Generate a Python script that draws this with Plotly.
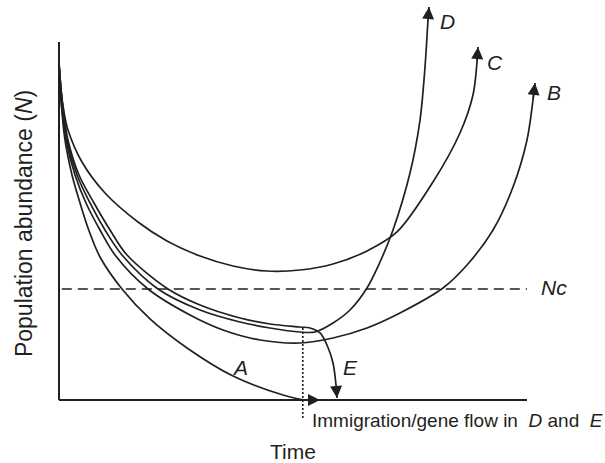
import plotly.graph_objects as go

# ---- data (time t, population abundance N) ----
A_t = [0, 0.043, 0.128, 0.278, 0.449, 0.620, 0.876, 1.346, 1.944, 2.735, 3.718, 4.786, 5.256, 5.577]
A_N = [9.330, 8.380, 7.263, 6.285, 5.503, 4.804, 3.994, 3.101, 2.263, 1.453, 0.670, 0.140, 0.0, 0.0]

B_t = [0, 0.043, 0.150, 0.342, 0.577, 0.876, 1.197, 1.902, 2.799, 3.504, 4.295, 5.150, 5.855, 6.581,
       7.286, 8.205, 8.718, 9.274, 9.701, 10.0, 10.128, 10.171]
B_N = [9.358, 8.380, 7.263, 6.285, 5.503, 4.749, 4.050, 3.101, 2.374, 1.955, 1.676, 1.592, 1.732, 2.011,
       2.430, 3.128, 3.771, 4.749, 5.950, 7.263, 8.380, 8.855]

C_t = [0, 0.043, 0.107, 0.192, 0.491, 0.983, 1.688, 2.308, 3.013, 3.718, 4.444, 5.150, 5.855, 6.581,
       7.222, 7.991, 8.568, 8.846, 8.932, 8.953]
C_N = [9.441, 8.659, 8.045, 7.542, 6.648, 5.782, 4.972, 4.441, 4.022, 3.743, 3.603, 3.631, 3.799, 4.162,
       4.693, 6.089, 7.458, 8.520, 9.441, 9.860]

D_t = [0, 0.064, 0.171, 0.385, 0.662, 0.983, 1.346, 2.115, 3.013, 3.868, 4.509, 5.150, 5.470, 5.855,
       6.218, 6.581, 6.859, 7.137, 7.500, 7.714, 7.821, 7.885, 7.906]
D_N = [9.385, 8.380, 7.263, 6.285, 5.503, 4.749, 4.050, 3.101, 2.514, 2.179, 2.011, 1.899, 1.899, 2.151,
       2.514, 3.128, 3.855, 4.749, 6.341, 7.821, 9.302, 10.615, 10.978]

E_t = [0, 0.064, 0.192, 0.427, 0.748, 1.090, 1.453, 2.329, 3.013, 3.868, 4.509, 5.150, 5.363, 5.577,
       5.726, 5.855, 5.919, 5.940]
E_N = [9.413, 8.380, 7.263, 6.285, 5.503, 4.749, 4.050, 3.101, 2.654, 2.291, 2.123, 2.039, 2.011, 1.872,
       1.536, 1.034, 0.419, 0.056]

NC_LEVEL = 3.10          # critical population size Nc
T_IMMIGRATION = 5.21     # time of immigration / gene flow
T_MAX = 10.0
N_MAX = 10.0
DOT_TOP = 2.01
DOT_BOTTOM = -0.56

INK = "#231f20"
FONT = "Liberation Sans, Arial, sans-serif"

fig = go.Figure()

def curve(t, n, width=1.7, dash=None, shape="spline"):
    fig.add_trace(go.Scatter(
        x=t, y=n, mode="lines", hoverinfo="skip", showlegend=False,
        line=dict(color=INK, width=width, dash=dash, shape=shape, smoothing=0.9),
    ))

# axes
curve([0, 0], [0, N_MAX], width=2, shape="linear")
curve([0, T_MAX], [0, 0], width=2, shape="linear")

# Nc dashed line
curve([0.06, T_MAX], [NC_LEVEL, NC_LEVEL], width=1.7, dash="10px,6px", shape="linear")
# immigration dotted line
curve([T_IMMIGRATION, T_IMMIGRATION], [DOT_TOP, DOT_BOTTOM], width=1.6, dash="2px,2px", shape="linear")

series = [(A_t, A_N), (B_t, B_N), (C_t, C_N), (D_t, D_N), (E_t, E_N)]
for t, n in series:
    curve(t, n)

annotations = []
# arrow heads at curve ends
for t, n in series:
    annotations.append(dict(
        x=t[-1], y=n[-1], ax=t[-2], ay=n[-2], xref="x", yref="y",
        axref="x", ayref="y", text="", showarrow=True,
        arrowhead=2, arrowsize=1.5, arrowwidth=1.6, arrowcolor=INK, standoff=0,
    ))

def label(x, y, text, size=21, xanchor="center", yanchor="middle", angle=0):
    annotations.append(dict(
        x=x, y=y, xref="x", yref="y", text=text, showarrow=False,
        xanchor=xanchor, yanchor=yanchor, textangle=angle,
        font=dict(family=FONT, size=size, color=INK),
    ))

label(8.31, 10.56, "<i>D</i>")
label(9.32, 9.44, "<i>C</i>")
label(10.58, 8.60, "<i>B</i>")
label(3.87, 0.92, "<i>A</i>")
label(6.22, 0.92, "<i>E</i>")
label(10.58, 3.13, "<i>Nc</i>")
label(5.36, -0.56, "Immigration/gene flow in  <i>D</i> and  <i>E</i>", size=19, xanchor="left")
label(5.0, -1.45, "Time", size=21)
label(-0.75, 4.94, "Population abundance (<i>N</i>)", size=23, angle=-90)

fig.update_layout(
    width=605, height=463,
    margin=dict(l=0, r=0, t=0, b=0),
    paper_bgcolor="white", plot_bgcolor="white",
    xaxis=dict(range=[-59 / 46.8, 546 / 46.8], visible=False, fixedrange=True),
    yaxis=dict(range=[-63 / 35.8, 400 / 35.8], visible=False, fixedrange=True),
    annotations=annotations,
    showlegend=False,
)

fig.write_html(
    "out.html",
    config={"displayModeBar": False},
    post_script="document.body.style.margin='0px';document.body.style.overflow='hidden';",
)
